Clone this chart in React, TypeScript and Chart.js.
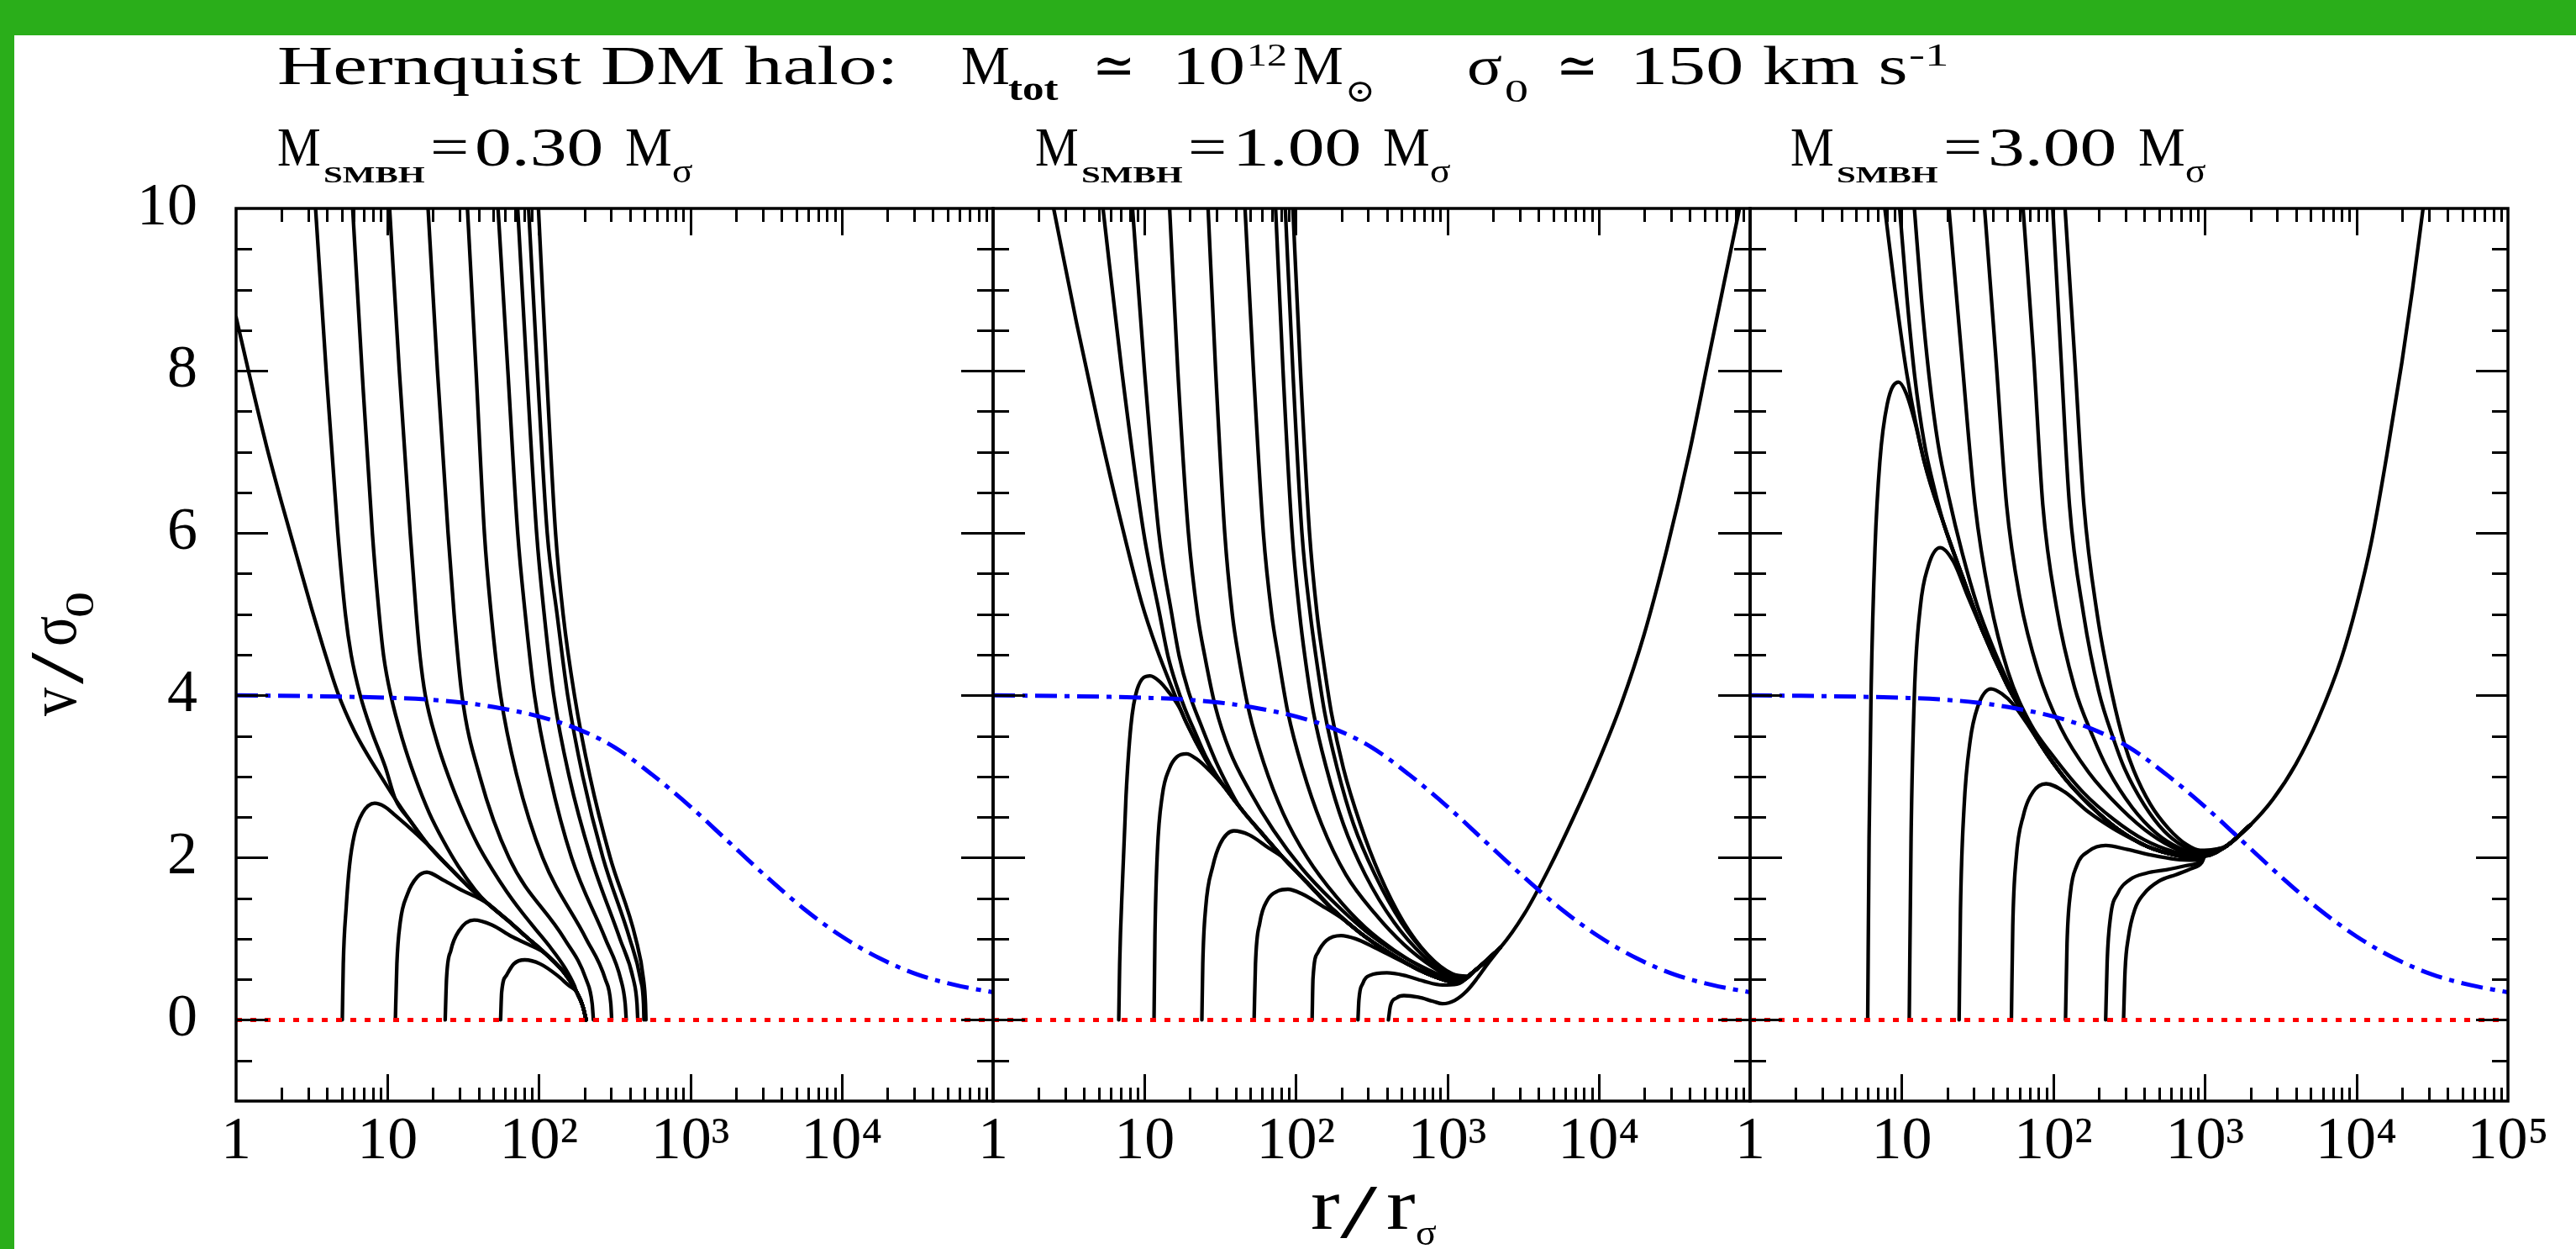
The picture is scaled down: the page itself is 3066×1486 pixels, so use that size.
import React, { useEffect, useLayoutEffect, useRef } from 'react';
import { Chart, registerables } from 'chart.js';

Chart.register(...registerables);

// Each point: [log10(r / r_sigma), v / sigma_0]
type P = [number, number];

// ---------------- axes ----------------
const xMajorTicks = [1, 10, 100, 1000, 10000, 100000];
const xMinorFactors = [2, 3, 4, 5, 6, 7, 8, 9];
const xLabelsA = ['1', '10', '10²', '10³', '10⁴', ''];
const xLabelsB = ['1', '10', '10²', '10³', '10⁴', '10⁵'];
const yMajorTicks = [0, 2, 4, 6, 8, 10];
const yTickLabels = ['0', '2', '4', '6', '8', '10'];
const yMinorTicks = [-0.5, 0.5, 1, 1.5, 2.5, 3, 3.5, 4.5, 5, 5.5, 6.5, 7, 7.5, 8.5, 9, 9.5];

// ---------------- reference lines (all panels) ----------------
const zeroLine: P[] = [[0, 0], [5, 0]];
const sigmaLine: P[] = [[0, 4.0], [0.5, 3.99], [1.0, 3.97], [1.25, 3.95], [1.5, 3.91], [1.75, 3.84], [2.0, 3.74], [2.25, 3.59], [2.5, 3.36], [2.75, 3.02], [3.0, 2.63], [3.25, 2.2], [3.5, 1.77], [3.75, 1.37], [4.0, 1.03], [4.25, 0.76], [4.5, 0.56], [4.75, 0.43], [5.0, 0.34]];

// ---------------- panel 1 : M_SMBH = 0.30 M_sigma ----------------
const p1Bundle: P[] = [[0, 8.66], [0.1, 7.85], [0.2, 7.08], [0.3, 6.38], [0.4, 5.72], [0.5, 5.06], [0.574, 4.6], [0.67, 4.04], [0.781, 3.56], [0.877, 3.24], [0.957, 3.0], [1.052, 2.72], [1.148, 2.46], [1.276, 2.14], [1.403, 1.89], [1.531, 1.65], [1.658, 1.44], [1.786, 1.24], [1.913, 1.03], [2.041, 0.82], [2.168, 0.58], [2.248, 0.35], [2.29, 0.17], [2.312, 0]];
const p1Top1: P[] = [[0.525, 10], [0.595, 8], [0.672, 6], [0.722, 5], [0.76, 4.5], [0.82, 4.0], [0.895, 3.56], [0.985, 3.12]];
const p1Top2: P[] = [[0.77, 10], [0.832, 8], [0.9, 6], [0.945, 5], [0.975, 4.48], [1.022, 4.0], [1.1, 3.45], [1.18, 3.0], [1.276, 2.55], [1.371, 2.2], [1.467, 1.895], [1.58, 1.6]];
const p1Top3: P[] = [[1.014, 10], [1.078, 8], [1.15, 6], [1.19, 5], [1.215, 4.48], [1.25, 4.0], [1.323, 3.45], [1.403, 3.0], [1.499, 2.55], [1.594, 2.17], [1.69, 1.86], [1.786, 1.585], [1.881, 1.343], [1.977, 1.12], [2.073, 0.9], [2.168, 0.653], [2.235, 0.42]];
const p1Top4: P[] = [[1.268, 10], [1.33, 8], [1.4, 6], [1.44, 5], [1.492, 4], [1.61, 3], [1.802, 2], [2.168, 1], [2.312, 0.5], [2.352, 0.2], [2.36, 0]];
const p1Top5: P[] = [[1.528, 10], [1.585, 8], [1.64, 6], [1.685, 5], [1.747, 4], [1.856, 3], [2.025, 2], [2.312, 1], [2.439, 0.5], [2.475, 0.2], [2.481, 0]];
const p1Top6: P[] = [[1.73, 10], [1.795, 8], [1.86, 6], [1.91, 5], [1.971, 4], [2.073, 3], [2.216, 2], [2.439, 1], [2.541, 0.5], [2.57, 0.2], [2.577, 0]];
const p1Top7: P[] = [[1.86, 10], [1.92, 8], [1.985, 6], [2.035, 5], [2.098, 4], [2.2, 3], [2.344, 2], [2.535, 1], [2.624, 0.5], [2.648, 0.2], [2.653, 0]];
const p1Top8: P[] = [[1.932, 10], [1.99, 8], [2.055, 6], [2.12, 5], [2.19, 4], [2.29, 3], [2.423, 2], [2.6, 1], [2.671, 0.5], [2.691, 0.2], [2.694, 0]];
const p1Top9: P[] = [[1.997, 10], [2.05, 8], [2.11, 6], [2.16, 5], [2.235, 4], [2.337, 3], [2.471, 2], [2.64, 1], [2.691, 0.5], [2.704, 0.2], [2.707, 0]];
const p1Bump1: P[] = [[0.7015, 0], [0.708, 0.69], [0.727, 1.38], [0.749, 1.9], [0.781, 2.28], [0.835, 2.55], [0.915, 2.67], [0.98, 2.63], [1.052, 2.52], [1.18, 2.31]];
const p1Bump2: P[] = [[1.052, 0], [1.062, 0.69], [1.084, 1.2], [1.132, 1.55], [1.196, 1.76], [1.26, 1.82], [1.371, 1.72], [1.499, 1.59], [1.58, 1.52]];
const p1Bump3: P[] = [[1.381, 0], [1.39, 0.51], [1.419, 0.86], [1.473, 1.1], [1.572, 1.23], [1.69, 1.17], [1.818, 1.03], [1.93, 0.93]];
const p1Bump4: P[] = [[1.747, 0], [1.754, 0.34], [1.786, 0.55], [1.834, 0.69], [1.907, 0.74], [2.009, 0.69], [2.121, 0.55], [2.2, 0.42]];

// ---------------- panel 2 : M_SMBH = 1.00 M_sigma ----------------
const p2Bundle: P[] = [[0.4, 10], [0.55, 8.6], [0.7, 7.3], [0.85, 6.1], [0.98, 5.15], [1.08, 4.58], [1.197, 4.02], [1.277, 3.66], [1.404, 3.21], [1.532, 2.86], [1.66, 2.55], [1.787, 2.275], [1.915, 2.0], [2.075, 1.69], [2.234, 1.38], [2.426, 1.07], [2.617, 0.825], [2.809, 0.62], [2.968, 0.5], [3.064, 0.463], [3.19, 0.62], [3.35, 0.89], [3.51, 1.31], [3.67, 1.86], [3.83, 2.48], [3.99, 3.15], [4.15, 3.9], [4.3, 4.75], [4.45, 5.8], [4.6, 7.0], [4.72, 8.1], [4.83, 9.1], [4.93, 10]];
const p2Top1: P[] = [[0.726, 10], [0.85, 8], [0.995, 6], [1.1, 5], [1.155, 4.485], [1.21, 4.13], [1.27, 3.82], [1.34, 3.52], [1.404, 3.25], [1.47, 3.03]];
const p2Top2: P[] = [[0.921, 10], [1.0, 8], [1.095, 6], [1.18, 5], [1.229, 4.485], [1.29, 4.05], [1.37, 3.65], [1.468, 3.2], [1.56, 2.85], [1.62, 2.65]];
const p2Top3: P[] = [[1.166, 10], [1.22, 8], [1.29, 6], [1.35, 5], [1.398, 4.485], [1.468, 3.86], [1.564, 3.31], [1.692, 2.83], [1.851, 2.34], [2.043, 1.86], [2.234, 1.48], [2.458, 1.1], [2.681, 0.81], [2.873, 0.62], [3.032, 0.49]];
const p2Top4: P[] = [[1.42, 10], [1.47, 8], [1.53, 6], [1.58, 5], [1.621, 4.485], [1.692, 3.79], [1.787, 3.17], [1.915, 2.55], [2.075, 2.0], [2.266, 1.52], [2.458, 1.14], [2.649, 0.86], [2.841, 0.64], [3.0, 0.51], [3.08, 0.49]];
const p2Top5: P[] = [[1.664, 10], [1.72, 8], [1.785, 6], [1.84, 5], [1.883, 4.485], [1.947, 3.79], [2.043, 3.1], [2.17, 2.41], [2.33, 1.79], [2.522, 1.31], [2.713, 0.93], [2.905, 0.65], [3.032, 0.52], [3.1, 0.5]];
const p2Top6: P[] = [[1.866, 10], [1.915, 8], [1.975, 6], [2.025, 5], [2.059, 4.485], [2.116, 3.79], [2.202, 3.1], [2.314, 2.41], [2.458, 1.79], [2.649, 1.2], [2.841, 0.79], [3.0, 0.56], [3.11, 0.5]];
const p2Top7: P[] = [[1.93, 10], [1.98, 8], [2.04, 6], [2.095, 5], [2.132, 4.485], [2.19, 3.79], [2.273, 3.1], [2.381, 2.41], [2.522, 1.79], [2.697, 1.2], [2.873, 0.79], [3.026, 0.56], [3.12, 0.52]];
const p2Top8: P[] = [[1.98, 10], [2.03, 8], [2.09, 6], [2.14, 5], [2.177, 4.485], [2.234, 3.79], [2.314, 3.1], [2.426, 2.41], [2.553, 1.79], [2.713, 1.2], [2.873, 0.8], [3.032, 0.57], [3.13, 0.54]];
const p2Bump1: P[] = [[0.83, 0], [0.836, 0.69], [0.855, 1.72], [0.878, 2.76], [0.91, 3.62], [0.951, 4.07], [1.037, 4.24], [1.1, 4.17], [1.16, 4.04], [1.23, 3.85]];
const p2Bump2: P[] = [[1.063, 0], [1.069, 1.03], [1.085, 2.07], [1.117, 2.76], [1.165, 3.1], [1.213, 3.24], [1.277, 3.28], [1.341, 3.22], [1.436, 3.06]];
const p2Bump3: P[] = [[1.379, 0], [1.385, 0.69], [1.404, 1.38], [1.452, 1.9], [1.5, 2.17], [1.59, 2.33], [1.692, 2.28], [1.819, 2.12]];
const p2Bump4: P[] = [[1.724, 0], [1.733, 0.69], [1.762, 1.2], [1.813, 1.48], [1.883, 1.59], [1.947, 1.61], [2.043, 1.55], [2.17, 1.41], [2.298, 1.26]];
const p2Bump5: P[] = [[2.107, 0], [2.113, 0.51], [2.145, 0.83], [2.202, 0.98], [2.298, 1.04], [2.394, 1.0], [2.522, 0.89], [2.649, 0.77], [2.745, 0.68]];
const p2Bump6: P[] = [[2.41, 0], [2.416, 0.24], [2.442, 0.45], [2.49, 0.55], [2.601, 0.58], [2.713, 0.55], [2.841, 0.48], [2.968, 0.43], [3.064, 0.44]];
const p2Bump7: P[] = [[2.611, 0], [2.624, 0.17], [2.665, 0.27], [2.713, 0.3], [2.809, 0.28], [2.905, 0.23], [2.968, 0.2], [3.048, 0.24], [3.13, 0.36], [3.2, 0.52], [3.27, 0.7]];

// ---------------- panel 3 : M_SMBH = 3.00 M_sigma ----------------
const p3Bundle: P[] = [[0.889, 10], [0.954, 9.02], [1.035, 7.95], [1.149, 6.88], [1.28, 6.1], [1.404, 5.45], [1.532, 4.8], [1.692, 4.14], [1.787, 3.82], [1.915, 3.4], [2.075, 2.98], [2.234, 2.66], [2.426, 2.35], [2.617, 2.14], [2.809, 2.03], [2.936, 2.0], [3.0, 2.02], [3.14, 2.14], [3.3, 2.4], [3.45, 2.72], [3.6, 3.15], [3.75, 3.72], [3.9, 4.45], [4.0, 5.1], [4.1, 5.9], [4.2, 6.95], [4.3, 8.1], [4.37, 9.0], [4.44, 10]];
const p3Top1: P[] = [[0.987, 10], [1.035, 8.9], [1.085, 7.95], [1.15, 7.1], [1.215, 6.55]];
const p3Top2: P[] = [[1.084, 10], [1.13, 8.9], [1.18, 7.95], [1.24, 7.1], [1.31, 6.45], [1.4, 5.75], [1.5, 5.1], [1.6, 4.6], [1.692, 4.2]];
const p3Top3: P[] = [[1.312, 10], [1.395, 8.2], [1.484, 6.35], [1.58, 5.2], [1.7, 4.3], [1.85, 3.65], [2.0, 3.25], [2.2, 2.8], [2.4, 2.47], [2.6, 2.22], [2.8, 2.07], [2.936, 2.02]];
const p3Top4: P[] = [[1.547, 10], [1.62, 8.2], [1.692, 6.35], [1.78, 5.2], [1.9, 4.3], [2.05, 3.6], [2.234, 3.05], [2.45, 2.6], [2.65, 2.28], [2.82, 2.1], [2.95, 2.04]];
const p3Top5: P[] = [[1.801, 10], [1.87, 8.2], [1.931, 6.35], [2.02, 5.1], [2.14, 4.1], [2.26, 3.5], [2.362, 3.08], [2.52, 2.62], [2.68, 2.3], [2.83, 2.12], [2.95, 2.05], [3.05, 2.07]];
const p3Top6: P[] = [[1.997, 10], [2.05, 8.2], [2.107, 6.35], [2.2, 5.0], [2.3, 4.05], [2.4, 3.45], [2.47, 3.1], [2.6, 2.65], [2.73, 2.33], [2.86, 2.14], [2.96, 2.07], [3.05, 2.08]];
const p3Top7: P[] = [[2.078, 10], [2.14, 8.2], [2.202, 6.35], [2.29, 5.0], [2.39, 4.0], [2.47, 3.4], [2.53, 3.08], [2.64, 2.66], [2.76, 2.36], [2.88, 2.16], [2.97, 2.09], [3.06, 2.1]];
const p3Bump1: P[] = [[0.776, 0], [0.785, 2.24], [0.798, 4.02], [0.824, 5.81], [0.856, 6.88], [0.905, 7.59], [0.98, 7.86], [1.03, 7.72], [1.09, 7.35]];
const p3Bump2: P[] = [[1.05, 0], [1.062, 2.24], [1.084, 4.02], [1.123, 5.09], [1.175, 5.59], [1.254, 5.82], [1.341, 5.65], [1.436, 5.22]];
const p3Bump3: P[] = [[1.379, 0], [1.388, 1.36], [1.411, 2.6], [1.452, 3.44], [1.5, 3.85], [1.59, 4.08], [1.66, 4.02], [1.74, 3.88], [1.82, 3.67]];
const p3Bump4: P[] = [[1.724, 0], [1.733, 1.15], [1.755, 1.98], [1.803, 2.52], [1.867, 2.81], [1.953, 2.91], [2.075, 2.81], [2.234, 2.56], [2.394, 2.36], [2.53, 2.22]];
const p3Bump5: P[] = [[2.081, 0], [2.091, 0.94], [2.113, 1.56], [2.155, 1.9], [2.234, 2.08], [2.346, 2.15], [2.49, 2.1], [2.649, 2.03], [2.809, 1.98], [2.936, 1.97]];
const p3Bump6: P[] = [[2.346, 0], [2.356, 0.73], [2.378, 1.27], [2.426, 1.56], [2.506, 1.73], [2.617, 1.81], [2.745, 1.85], [2.873, 1.9], [2.968, 1.95]];
const p3Bump7: P[] = [[2.464, 0], [2.474, 0.61], [2.496, 1.02], [2.538, 1.36], [2.601, 1.56], [2.697, 1.71], [2.809, 1.79], [2.905, 1.86], [2.98, 1.94]];

// join a curve onto the common envelope it merges into
const link = (head: P[], src: P[], upTo = Infinity): P[] => {
  const lastX = head[head.length - 1][0];
  return [...head, ...src.filter(([x]) => x > lastX && x <= upTo)];
};

const panel1Curves: P[][] = [
  p1Bundle,
  link(p1Top1, p1Bundle), link(p1Top2, p1Bundle), link(p1Top3, p1Bundle),
  p1Top4, p1Top5, p1Top6, p1Top7, p1Top8, p1Top9,
  link(p1Bump1, p1Bundle), link(p1Bump2, p1Bundle), link(p1Bump3, p1Bundle), link(p1Bump4, p1Bundle),
];
const panel2Curves: P[][] = [
  p2Bundle,
  ...[p2Top1, p2Top2, p2Top3, p2Top4, p2Top5, p2Top6, p2Top7, p2Top8].map((c) => link(c, p2Bundle, 3.35)),
  ...[p2Bump1, p2Bump2, p2Bump3, p2Bump4, p2Bump5, p2Bump6, p2Bump7].map((c) => link(c, p2Bundle, 3.35)),
];
const panel3Curves: P[][] = [
  p3Bundle,
  ...[p3Top1, p3Top2, p3Top3, p3Top4, p3Top5, p3Top6, p3Top7].map((c) => link(c, p3Bundle, 3.3)),
  ...[p3Bump1, p3Bump2, p3Bump3, p3Bump4, p3Bump5, p3Bump6, p3Bump7].map((c) => link(c, p3Bundle, 3.3)),
];

const W = 3066;
const H = 1486;
const PLOT_TOP = 248;
const PLOT_BOTTOM = 1310;
const X_AXIS_H = 150;

const panels = [
  { left: 281, right: 1182, labels: xLabelsA, showY: true, curves: panel1Curves },
  { left: 1182, right: 2083, labels: xLabelsA, showY: false, curves: panel2Curves },
  { left: 2083, right: 2985, labels: xLabelsB, showY: false, curves: panel3Curves },
];

const toXY = (pts: P[]) => pts.map(([lr, v]) => ({ x: Math.pow(10, lr), y: v }));

const FONT = "'Liberation Serif', 'DejaVu Serif', 'DejaVu Sans', serif";

const framePlugin = {
  id: 'smFrame',
  afterDatasetsDraw(chart: any) {
    const { ctx, chartArea: a, scales } = chart;
    const xs = scales.x;
    const ys = scales.y;
    ctx.save();
    ctx.strokeStyle = '#000';
    ctx.lineCap = 'butt';
    ctx.lineWidth = 3;
    ctx.beginPath();
    for (const m of xMajorTicks) {
      for (const f of [1, ...xMinorFactors]) {
        const v = m * f;
        if (v <= 1 || v >= 100000) continue;
        const len = f === 1 ? 32 : 16;
        const px = Math.round(xs.getPixelForValue(v)) + 0.5;
        ctx.moveTo(px, a.bottom);
        ctx.lineTo(px, a.bottom - len);
        ctx.moveTo(px, a.top);
        ctx.lineTo(px, a.top + len);
      }
    }
    const yTicks: [number, number][] = [
      ...yMajorTicks.filter((v) => v > -1 && v < 10).map((v) => [v, 38] as [number, number]),
      ...yMinorTicks.map((v) => [v, 19] as [number, number]),
    ];
    for (const [v, len] of yTicks) {
      const py = Math.round(ys.getPixelForValue(v)) + 0.5;
      ctx.moveTo(a.left, py);
      ctx.lineTo(a.left + len, py);
      ctx.moveTo(a.right, py);
      ctx.lineTo(a.right - len, py);
    }
    ctx.stroke();
    ctx.lineWidth = 3.5;
    ctx.strokeRect(a.left, a.top, a.right - a.left, a.bottom - a.top);
    ctx.restore();
  },
};

function makeConfig(p: (typeof panels)[number]): any {
  const common = {
    pointRadius: 0,
    pointHoverRadius: 0,
    fill: false,
    cubicInterpolationMode: 'monotone',
  };
  const tickFont = { family: "'Liberation Serif'", size: 72 };
  return {
    type: 'line',
    data: {
      datasets: [
        { ...common, data: toXY(zeroLine), borderColor: '#ff0000', borderWidth: 5, borderDash: [7, 10], borderCapStyle: 'butt' },
        { ...common, data: toXY(sigmaLine), borderColor: '#0000ff', borderWidth: 5, borderDash: [26, 9, 6, 9], borderCapStyle: 'butt' },
        ...p.curves.map((c) => ({ ...common, data: toXY(c), borderColor: '#000000', borderWidth: 4.3, borderCapStyle: 'round', borderJoinStyle: 'round' })),
      ],
    },
    options: {
      responsive: false,
      animation: false,
      devicePixelRatio: 1,
      events: [],
      layout: {
        padding: {
          left: p.showY ? 0 : p.left,
          right: W - p.right,
          top: PLOT_TOP,
          bottom: H - PLOT_BOTTOM - X_AXIS_H,
        },
      },
      plugins: { legend: { display: false }, tooltip: { enabled: false }, title: { display: false } },
      scales: {
        x: {
          type: 'logarithmic',
          min: 1,
          max: 100000,
          afterFit: (s: any) => { s.height = X_AXIS_H; },
          afterBuildTicks: (s: any) => { s.ticks = xMajorTicks.map((v) => ({ value: v })); },
          grid: { display: false, drawTicks: false },
          border: { display: false },
          ticks: {
            autoSkip: false,
            maxRotation: 0,
            minRotation: 0,
            padding: 6,
            color: '#000',
            font: tickFont,
            callback: (_v: any, i: number) => p.labels[i],
          },
        },
        y: {
          type: 'linear',
          min: -1,
          max: 10,
          afterFit: (s: any) => { s.width = p.showY ? p.left : 0; },
          afterBuildTicks: (s: any) => { s.ticks = yMajorTicks.map((v) => ({ value: v })); },
          grid: { display: false, drawTicks: false },
          border: { display: false },
          ticks: {
            display: p.showY,
            padding: 46,
            color: '#000',
            font: tickFont,
            callback: (_v: any, i: number) => yTickLabels[i],
          },
        },
      },
    },
    plugins: [framePlugin],
  };
}

// ---------------- text ----------------
type Piece = { t: string; x: number; base: number; size: number; w: number; bold?: boolean; rot?: boolean };

const titlePieces: Piece[] = [
  { t: 'Hernquist DM halo:', x: 330, base: 100, size: 65, w: 740 },
  { t: 'M', x: 1144, base: 100, size: 65, w: 58 },
  { t: 'tot', x: 1200, base: 119, size: 40, w: 60, bold: true },
  { t: '≃', x: 1300, base: 100, size: 65, w: 51 },
  { t: '10', x: 1395, base: 100, size: 65, w: 87 },
  { t: '12', x: 1484, base: 78, size: 38, w: 48 },
  { t: 'M', x: 1539, base: 100, size: 65, w: 60 },
  { t: '⊙', x: 1601, base: 121, size: 38, w: 36 },
  { t: 'σ', x: 1746, base: 100, size: 65, w: 42 },
  { t: '0', x: 1791, base: 121, size: 38, w: 28 },
  { t: '≃', x: 1852, base: 100, size: 65, w: 50 },
  { t: '150 km s', x: 1940, base: 100, size: 65, w: 330 },
  { t: '-1', x: 2272, base: 78, size: 38, w: 48 },
];

const panelLabelValues = ['0.30', '1.00', '3.00'];
const panelLabelStarts = [330, 1232, 2131];
const panelPieces: Piece[] = panelLabelStarts.flatMap((o, i) => [
  { t: 'M', x: o, base: 197, size: 66, w: 52 },
  { t: 'SMBH', x: o + 55, base: 217, size: 28, w: 120, bold: true },
  { t: '=', x: o + 182, base: 197, size: 66, w: 46 },
  { t: panelLabelValues[i], x: o + 235, base: 197, size: 66, w: 154 },
  { t: 'M', x: o + 414, base: 197, size: 66, w: 56 },
  { t: 'σ', x: o + 470, base: 217, size: 40, w: 25 },
]);

const axisPieces: Piece[] = [
  // y title, reading upward; x = baseline position, base = starting y
  { t: 'v', x: 90, base: 852, size: 80, w: 34, rot: true },
  { t: '/', x: 98, base: 814, size: 90, w: 38, rot: true },
  { t: 'σ', x: 90, base: 769, size: 80, w: 36, rot: true },
  { t: '0', x: 111, base: 735, size: 48, w: 31, rot: true },
  // x title
  { t: 'r', x: 1560, base: 1462, size: 86, w: 35 },
  { t: '/', x: 1595, base: 1472, size: 92, w: 45 },
  { t: 'r', x: 1650, base: 1462, size: 86, w: 35 },
  { t: 'σ', x: 1685, base: 1482, size: 44, w: 25 },
];

function TextPiece({ p }: { p: Piece }) {
  const ref = useRef<HTMLSpanElement>(null);
  useLayoutEffect(() => {
    const el = ref.current;
    if (!el) return;
    const nat = el.offsetWidth;
    const k = nat > 0 ? p.w / nat : 1;
    el.style.transform = p.rot ? `rotate(-90deg) scaleX(${k})` : `scaleX(${k})`;
  }, [p]);
  const asc = 0.8375 * p.size; // baseline offset inside a line-height:1 box
  const pos = p.rot ? { left: p.x - asc, top: p.base } : { left: p.x, top: p.base - asc };
  return (
    <span
      ref={ref}
      style={{
        position: 'absolute',
        ...pos,
        fontFamily: FONT,
        fontSize: p.size,
        lineHeight: 1,
        fontWeight: p.bold ? 'bold' : 'normal',
        whiteSpace: 'nowrap',
        transformOrigin: '0 0',
        color: '#000',
      }}
    >
      {p.t}
    </span>
  );
}

export default function App() {
  const c1 = useRef<HTMLCanvasElement>(null);
  const c2 = useRef<HTMLCanvasElement>(null);
  const c3 = useRef<HTMLCanvasElement>(null);
  const canvasRefs = [c1, c2, c3];

  useEffect(() => {
    const charts = panels.map((p, i) => new Chart(canvasRefs[i].current as HTMLCanvasElement, makeConfig(p)));
    return () => charts.forEach((c) => c.destroy());
  }, []);

  return (
    <div style={{ position: 'absolute', left: 0, top: 0, width: W, height: H, background: '#ffffff', overflow: 'hidden' }}>
      <div style={{ position: 'absolute', left: 0, top: 0, width: W, height: 42, background: '#2aae1a' }} />
      <div style={{ position: 'absolute', left: 0, top: 0, width: 17, height: H, background: '#2aae1a' }} />
      {panels.map((_, i) => (
        <canvas
          key={i}
          ref={canvasRefs[i]}
          width={W}
          height={H}
          style={{ position: 'absolute', left: 0, top: 0, width: W, height: H }}
        />
      ))}
      {[...titlePieces, ...panelPieces, ...axisPieces].map((p, i) => (
        <TextPiece key={i} p={p} />
      ))}
    </div>
  );
}
